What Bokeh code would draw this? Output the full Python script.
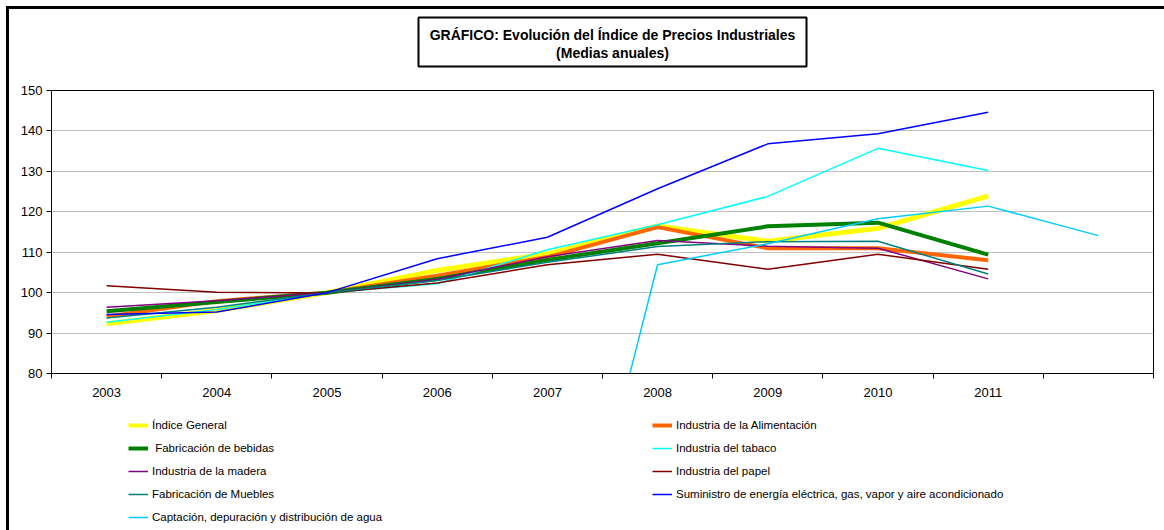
from bokeh.plotting import figure
from bokeh.layouts import column
from bokeh.models import Range1d, FixedTicker, Legend, LegendItem, Label, BoxAnnotation
from bokeh.embed import file_html
from bokeh.resources import INLINE

nan = float("nan")

years = [2003, 2004, 2005, 2006, 2007, 2008, 2009, 2010, 2011, 2012]
year_labels = ["2003", "2004", "2005", "2006", "2007", "2008", "2009", "2010", "2011", ""]
y_ticks = [80, 90, 100, 110, 120, 130, 140, 150]

indice_general = [92.3, 95.6, 100.0, 105.5, 109.6, 116.5, 112.7, 115.9, 123.9, nan]
alimentacion = [94.1, 97.9, 100.0, 104.2, 108.8, 116.2, 111.0, 111.0, 108.0, nan]
bebidas = [95.4, 97.7, 100.0, 103.4, 108.1, 112.2, 116.4, 117.3, 109.4, nan]
tabaco = [92.7, 95.8, 100.0, 102.2, 110.6, 116.8, 123.8, 135.7, 130.2, nan]
madera = [96.4, 98.0, 100.0, 103.3, 108.9, 112.9, 111.5, 111.0, 103.4, nan]
papel = [101.7, 100.1, 99.9, 102.4, 106.9, 109.5, 105.8, 109.5, 105.8, nan]
muebles = [93.7, 96.4, 100.0, 103.0, 107.5, 111.4, 112.6, 112.7, 104.6, nan]
suministro = [94.6, 95.2, 100.0, 108.4, 113.7, 125.7, 136.8, 139.3, 144.6, nan]
captacion = [0.0, 0.0, 0.0, 0.0, 0.0, 106.9, 112.1, 118.3, 121.4, 114.1]

series = [
    ("Índice General", indice_general, "#FFFF00", 5),
    ("Industria de la Alimentación", alimentacion, "#FF6600", 4),
    (" Fabricación de bebidas", bebidas, "#008000", 4),
    ("Industria del tabaco", tabaco, "#00FFFF", 1.5),
    ("Industria de la madera", madera, "#800080", 1.5),
    ("Industria del papel", papel, "#800000", 1.5),
    ("Fabricación de Muebles", muebles, "#008080", 1.5),
    ("Suministro de energía eléctrica, gas, vapor y aire acondicionado", suministro, "#0000FF", 1.5),
    ("Captación, depuración y distribución de agua", captacion, "#00CCFF", 1.5),
]

title_lines = ["GRÁFICO: Evolución del Índice de Precios Industriales", "(Medias anuales)"]

FONT = "Liberation Sans"
W = 1155
FRAME_L, FRAME_R = 51, 1153   # page x of the (aligned) plot frames


def blank_fig(h):
    f = figure(width=W, height=h, output_backend="svg", toolbar_location=None,
               x_range=Range1d(FRAME_L, FRAME_R), y_range=Range1d(h, 0),
               min_border_left=42, min_border_right=11, min_border_top=0, min_border_bottom=0)
    f.axis.visible = False
    f.grid.visible = False
    f.outline_line_color = None
    f.background_fill_color = "white"
    f.border_fill_color = "white"
    return f


# ---- title panel ----
pt = blank_fig(70)
pt.add_layout(BoxAnnotation(left=418, right=806, top=8, bottom=57,
                            fill_alpha=0, line_color="black", line_alpha=1, line_width=2))
for txt, yy in zip(title_lines, [25.5, 43.5]):
    pt.add_layout(Label(x=612, y=yy, text=txt, text_align="center", text_baseline="middle",
                        text_font=FONT, text_font_size="14px", text_font_style="bold",
                        text_color="black"))

# ---- main chart ----
p = figure(width=W, height=336, output_backend="svg", toolbar_location=None,
           x_range=Range1d(2002.5, 2012.5), y_range=Range1d(80, 150),
           min_border_left=42, min_border_right=11, min_border_top=11, min_border_bottom=42)
p.background_fill_color = "white"
p.border_fill_color = "white"
p.outline_line_color = "black"
p.outline_line_width = 1

p.xgrid.visible = False
p.ygrid.grid_line_color = "#C0C0C0"
p.ygrid.ticker = FixedTicker(ticks=y_ticks)

xa = p.xaxis[0]
xa.ticker = FixedTicker(ticks=years, minor_ticks=[y - 0.5 for y in years] + [2012.5])
xa.major_label_overrides = {y: l for y, l in zip(years, year_labels)}
xa.major_tick_line_color = None
xa.major_tick_out = 0
xa.major_tick_in = 0
xa.minor_tick_line_color = "black"
xa.minor_tick_out = 5
xa.minor_tick_in = 0
xa.axis_line_color = "black"
xa.major_label_standoff = 9
xa.major_label_text_font = FONT
xa.major_label_text_font_size = "13px"
xa.major_label_text_color = "black"

ya = p.yaxis[0]
ya.ticker = FixedTicker(ticks=y_ticks)
ya.major_tick_out = 5
ya.major_tick_in = 0
ya.minor_tick_line_color = None
ya.axis_line_color = "black"
ya.major_label_standoff = 4
ya.major_label_text_font = FONT
ya.major_label_text_font_size = "13px"
ya.major_label_text_color = "black"

for name, vals, color, w in series:
    p.line(years, vals, line_color=color, line_width=w)

# ---- legend panel (proxy renderers lie outside this panel's ranges) ----
pl = blank_fig(115)
left_items, right_items = [], []
for i, (name, vals, color, w) in enumerate(series):
    r = pl.line(years, vals, line_color=color, line_width=(4 if w > 2 else 1.5))
    (left_items if i % 2 == 0 else right_items).append(LegendItem(label=name, renderers=[r]))


def make_legend(items, loc):
    return Legend(items=items, location=loc, padding=0, margin=0, spacing=3,
                  label_height=20, glyph_height=20, glyph_width=20, label_standoff=4,
                  label_text_font=FONT, label_text_font_size="11.5px", label_text_color="black",
                  border_line_alpha=0, background_fill_alpha=0)


pl.add_layout(make_legend(left_items, (128 - FRAME_L, 3)))
pl.add_layout(make_legend(right_items, (652 - FRAME_L, 26)))

layout = column(pt, p, pl, spacing=0)
layout.styles = {"margin-left": "6px", "margin-top": "6px",
                 "border-left": "3px solid black", "border-top": "3px solid black"}

open("out.html", "w").write(file_html(layout, INLINE))
